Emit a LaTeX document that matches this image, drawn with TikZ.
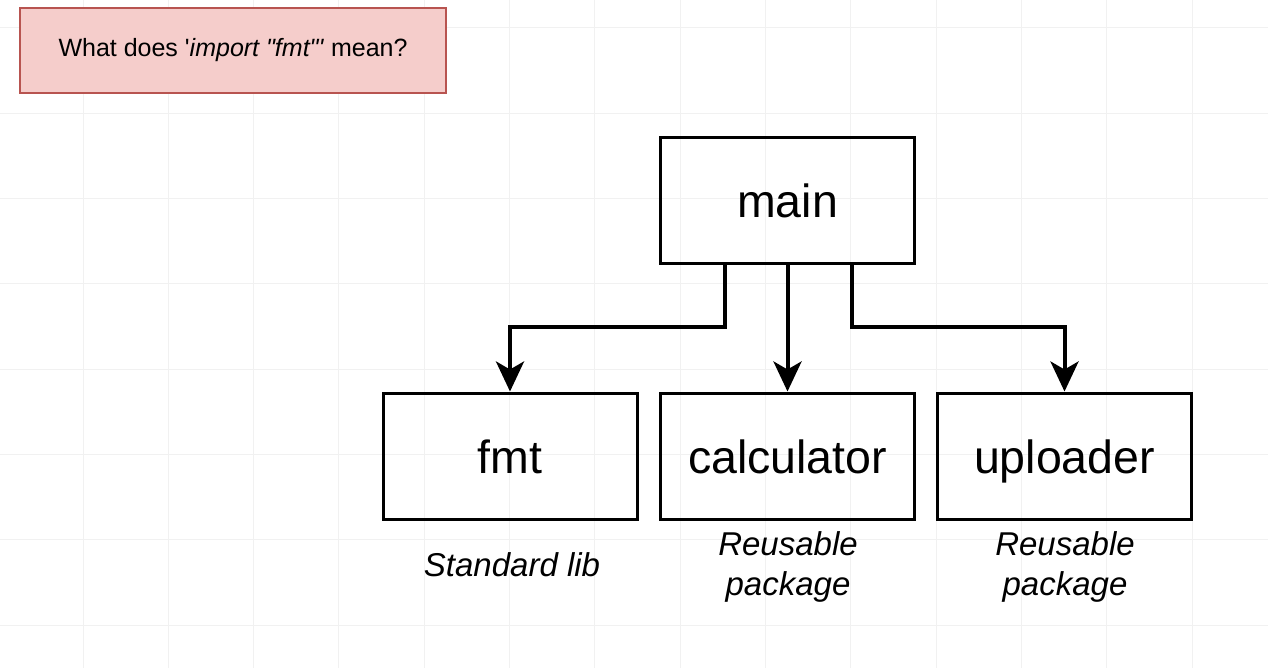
\documentclass[tikz,border=0pt]{standalone}
\usepackage{fontspec}
\newfontfamily\hv{Liberation Sans}
\usetikzlibrary{arrows.meta}
\definecolor{redfill}{HTML}{F5CDCB}
\definecolor{redline}{HTML}{B85450}
\definecolor{gridc}{HTML}{F1F1F1}
\tikzset{
  box/.style={draw=black, line width=3pt, minimum width=254pt, minimum height=126pt, inner sep=0pt, text height=34pt, text depth=0pt, font=\hv\fontsize{46.5}{50}\selectfont},
  conn/.style={line width=4pt, -{Stealth[length=30pt,width=28pt,inset=8pt]}},
  lbl/.style={align=center, font=\hv\fontsize{33}{40}\selectfont\itshape},
}
\begin{document}
\begin{tikzpicture}[x=1pt,y=-1pt]
\useasboundingbox (0,0) rectangle (1268,668);
\fill[white] (0,0) rectangle (1268,668);
\foreach \i in {0,...,14} {\draw[gridc, line width=1pt] ({83+85.33*\i},0) -- ({83+85.33*\i},668);}
\foreach \j in {0,...,7} {\draw[gridc, line width=1pt] (0,{28+85.33*\j}) -- (1268,{28+85.33*\j});}
\node[draw=redline, fill=redfill, line width=2.5pt, minimum width=426pt, minimum height=85pt, inner sep=0pt, font=\hv\fontsize{25}{30}\selectfont] (q) at (233,50.5) {What does '\textit{import "fmt"'} mean?};
\node[box] (main) at (787.5,200.5) {main};
\node[box] (fmt) at (510,456) {fmt};
\node[box] (calc) at (787.5,456) {calculator};
\node[box] (up) at (1064.5,456) {uploader};
\node[lbl] (l1) at (512,565) {Standard lib};
\node[lbl] (l2) at (788,567) {Reusable\\package};
\node[lbl] (l3) at (1065,567) {Reusable\\package};
\coordinate (a1) at (725,327);
\coordinate (a2) at (852,327);
\draw[conn] (main.south -| a1) -- (a1) -| (fmt.north);
\draw[conn] (main.south) -- (calc.north);
\draw[conn] (main.south -| a2) -- (a2) -| (up.north);
\end{tikzpicture}
\end{document}
